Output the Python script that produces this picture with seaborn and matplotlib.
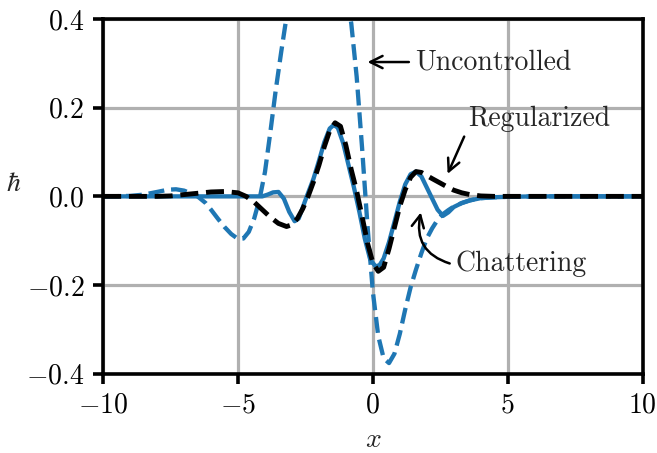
import numpy as np
import pandas as pd
import matplotlib
matplotlib.use('Agg')
import matplotlib.pyplot as plt
import seaborn as sns

# values
unc_x = [-10, -9, -8.5, -8.0, -7.6, -7.3, -7.0, -6.8, -6.5, -6.2, -6.0, -5.75, -5.5, -5.25,
         -5.0, -4.8, -4.6, -4.4, -4.2, -4.0, -3.8, -3.6, -3.4, -3.2, -3.0, -2.7, -2.4, -2.1,
         -1.8, -1.5, -1.2, -1.0, -0.8, -0.6, -0.4, -0.2, 0.0, 0.2, 0.4, 0.6, 0.8, 1.0, 1.2,
         1.4, 1.6, 1.8, 2.0, 2.2, 2.4, 2.6, 2.8, 3.0, 3.3, 3.6, 4.0, 4.5, 5.0, 6.0, 10]
unc_y = [0.0, 0.001, 0.004, 0.010, 0.015, 0.016, 0.013, 0.008, 0.0, -0.015, -0.030, -0.050,
         -0.069, -0.085, -0.096, -0.095, -0.080, -0.050, -0.006, 0.055, 0.145, 0.240, 0.325,
         0.405, 0.480, 0.580, 0.650, 0.680, 0.665, 0.610, 0.520, 0.460, 0.390, 0.270, 0.110,
         -0.065, -0.215, -0.315, -0.365, -0.376, -0.355, -0.310, -0.255, -0.205, -0.165,
         -0.128, -0.095, -0.072, -0.053, -0.040, -0.031, -0.023, -0.015, -0.009, -0.004,
         -0.002, -0.001, 0.0, 0.0]

reg_x = [-10, -8, -7.5, -7.0, -6.5, -6.0, -5.5, -5.0, -4.7, -4.4, -4.1, -3.8, -3.5, -3.2,
         -3.0, -2.8, -2.6, -2.4, -2.2, -2.0, -1.8, -1.6, -1.4, -1.2, -1.0, -0.8, -0.6, -0.4,
         -0.2, 0.0, 0.2, 0.4, 0.6, 0.8, 1.0, 1.2, 1.4, 1.6, 1.8, 2.0, 2.2, 2.5, 2.8, 3.0,
         3.3, 3.6, 4.0, 4.5, 10]
reg_y = [0.0, 0.0, 0.001, 0.004, 0.007, 0.010, 0.011, 0.008, 0.0, -0.013, -0.030, -0.047,
         -0.061, -0.068, -0.064, -0.050, -0.028, 0.0, 0.033, 0.070, 0.112, 0.148, 0.166,
         0.158, 0.115, 0.060, 0.012, -0.045, -0.105, -0.150, -0.169, -0.160, -0.118, -0.070,
         -0.022, 0.015, 0.043, 0.056, 0.054, 0.047, 0.040, 0.030, 0.020, 0.014, 0.008,
         0.004, 0.001, 0.0, 0.0]

cha_x = [-10, -4.1, -3.9, -3.7, -3.5, -3.3, -3.1, -2.9, -2.75, -2.6, -2.45, -2.2, -2.0,
         -1.8, -1.6, -1.45, -1.3, -1.1, -0.9, -0.7, -0.5, -0.3, -0.1, 0.1, 0.25, 0.4, 0.6,
         0.8, 1.0, 1.2, 1.4, 1.6, 1.8, 2.0, 2.2, 2.4, 2.6, 2.8, 3.0, 3.3, 3.6, 4.0, 4.5,
         5.0, 6.0, 10]
cha_y = [0.0, 0.0, 0.004, 0.009, 0.010, -0.005, -0.035, -0.056, -0.050, -0.025, 0.0, 0.040,
         0.080, 0.122, 0.153, 0.161, 0.155, 0.120, 0.070, 0.020, -0.035, -0.095, -0.142,
         -0.158, -0.155, -0.140, -0.103, -0.058, -0.012, 0.027, 0.050, 0.056, 0.045, 0.020,
         -0.005, -0.030, -0.044, -0.036, -0.024, -0.015, -0.009, -0.004, -0.002, -0.001,
         0.0, 0.0]

x_ticks = [-10, -5, 0, 5, 10]
y_ticks = [-0.4, -0.2, 0.0, 0.2, 0.4]


def main():
    sns.set_style('ticks')
    plt.rcParams.update({
        'font.family': 'serif',
        'font.serif': ['cmr10', 'DejaVu Serif'],
        'mathtext.fontset': 'cm',
        'axes.formatter.use_mathtext': True,
        'axes.unicode_minus': True,
        'font.size': 20,
        'axes.edgecolor': 'black',
        'axes.linewidth': 2.6,
        'xtick.major.width': 2.6,
        'ytick.major.width': 2.6,
        'xtick.major.size': 7.5,
        'ytick.major.size': 7.5,
        'xtick.major.pad': 6,
        'ytick.major.pad': 6,
        'xtick.color': 'black',
        'ytick.color': 'black',
    })

    fig, ax = plt.subplots(figsize=(6.57, 4.53), dpi=100)
    fig.subplots_adjust(left=0.157, right=0.978, top=0.958, bottom=0.175)

    blue = '#1f77b4'
    sns.lineplot(x=unc_x, y=unc_y, ax=ax, color=blue, linestyle='--', linewidth=3.1)
    sns.lineplot(x=cha_x, y=cha_y, ax=ax, color=blue, linestyle='-', linewidth=3.1)
    sns.lineplot(x=reg_x, y=reg_y, ax=ax, color='black', linestyle='--', linewidth=3.5)

    ax.set_xlim(-10, 10)
    ax.set_ylim(-0.4, 0.4)
    ax.set_xticks(x_ticks)
    ax.set_yticks(y_ticks)
    ax.grid(True, color='#b0b0b0', linewidth=2.3)
    ax.set_axisbelow(True)
    ax.tick_params(labelsize=20)
    ax.set_xlabel(r'$x$', fontsize=20, labelpad=5.5)
    ax.set_ylabel(r'$\hbar$', fontsize=20, rotation=0, va='center', ha='center')
    ax.yaxis.set_label_coords(-0.166, 0.535)

    arrow = dict(arrowstyle='->', color='black', linewidth=1.8, mutation_scale=22)
    ax.annotate('Uncontrolled', xy=(-0.3, 0.303), xytext=(1.56, 0.303),
                ha='left', va='center', fontsize=20, arrowprops=arrow)
    ax.annotate('Regularized', xy=(2.73, 0.045), xytext=(3.55, 0.175),
                ha='left', va='center', fontsize=20,
                arrowprops=dict(arrow, relpos=(0, 0.2)))
    ax.annotate('Chattering', xy=(1.8, -0.03), xytext=(3.07, -0.152),
                ha='left', va='center', fontsize=20,
                arrowprops=dict(arrow, relpos=(0, 0.45), connectionstyle='arc3,rad=-0.5'))

    fig.savefig('out.png', dpi=100)
    plt.close(fig)


if __name__ == '__main__':
    main()
